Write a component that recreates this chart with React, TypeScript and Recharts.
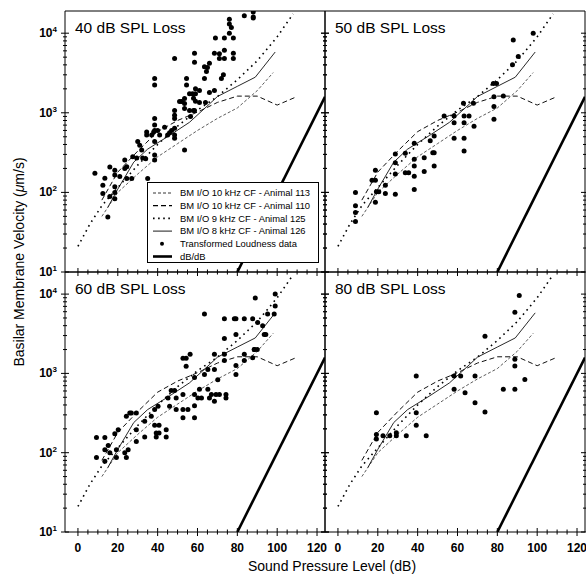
import { ComposedChart, Line, Scatter, XAxis, YAxis, ReferenceArea } from 'recharts';

const W = 586;
const H = 577;
const FONT = '"Liberation Sans", Arial, Helvetica, sans-serif';

const X_DOMAIN: [number, number] = [-6.5, 124];
const Y_DOMAIN: [number, number] = [10, 19000];

const xTicks = [0, 5, 10, 15, 20, 25, 30, 35, 40, 45, 50, 55, 60, 65, 70, 75, 80, 85, 90, 95, 100, 105, 110, 115, 120];
const yTicks = [
  10, 20, 30, 40, 50, 60, 70, 80, 90,
  100, 200, 300, 400, 500, 600, 700, 800, 900,
  1000, 2000, 3000, 4000, 5000, 6000, 7000, 8000, 9000,
  10000,
];

// BM I/O functions, [dB SPL, µm/s] — same in every panel
const animal113 = [[12, 50], [20, 100], [30, 170], [40, 280], [50, 410], [60, 600], [70, 850], [80, 1150], [90, 1900], [98, 3200]];
const animal110 = [[12, 80], [20, 180], [30, 330], [40, 580], [50, 800], [60, 1020], [70, 1350], [80, 1620], [90, 1620], [100, 1250], [110, 1600]];
const animal125 = [[0, 21], [6, 40], [12, 68], [20, 115], [30, 220], [40, 400], [50, 680], [60, 1080], [70, 1600], [80, 2600], [90, 4500], [100, 9000], [108, 17500]];
const animal126 = [[15, 65], [20, 110], [28, 240], [35, 350], [46, 520], [56, 760], [66, 1290], [70, 1600], [80, 2150], [89, 2800], [99, 5800]];
const dbPerDb = [[80, 10], [124, 1585]];

// transformed loudness data
const loudness40 = [
  [8.5, 174], [12.5, 123], [12.5, 97], [13.5, 151], [15, 49], [16, 209], [16, 89], [18.5, 190], [18.5, 165],
  [18.5, 118], [18.5, 100], [18.5, 83], [21, 158], [23.5, 200], [24.5, 210], [23.5, 255], [24.5, 150], [27, 150],
  [27.5, 280], [29.5, 270], [30, 435], [31, 390], [32, 340], [32.5, 270], [34, 265], [34.5, 575], [34.5, 525],
  [35, 150], [37, 525], [38, 575], [38.5, 435], [38.5, 295], [38.5, 255], [38.5, 850], [38.5, 700], [38.5, 600],
  [38.5, 2700], [38.5, 2230], [40, 600], [41, 525], [43.5, 660], [45, 525], [46, 560], [47, 600], [48.5, 640],
  [48.5, 525], [48.5, 480], [48.5, 850], [48.5, 1070], [48.5, 930], [48.5, 4800], [51, 1390], [52, 1390],
  [53.5, 1510], [53.5, 1310], [53.5, 1130], [53.5, 340], [54.5, 2700], [54.5, 2230], [56, 1740], [57.5, 1740],
  [59, 1740], [56, 1070], [58, 1070], [58.5, 1070], [56.5, 900], [58, 1520], [59, 1400], [59, 2000], [61, 1900],
  [61, 1350], [63.5, 2700], [63.5, 3800], [64.5, 3300], [65, 3700], [66, 4200], [64, 1350], [66, 1800],
  [68.5, 1900], [68.5, 5600], [69, 8700], [71, 4800], [71, 5500], [72, 2700], [73, 3000], [73.5, 8700],
  [73.5, 6100], [73.5, 4800], [76, 15000], [76, 10000], [77, 11800], [76, 13000], [78, 4800], [78, 5600],
  [78, 8700], [83.5, 16600], [88, 18500], [88, 15500], [88, 16000], [58.5, 5600], [58.5, 4300],
];
const loudness50 = [
  [8.8, 100], [8.8, 68], [8.8, 56], [8.8, 43], [18.8, 190], [17.1, 142], [18.8, 142], [19.3, 102], [18.8, 75],
  [20.5, 102], [23.8, 123], [23.8, 97], [28.8, 303], [28.8, 235], [28.8, 170], [28.8, 95], [33.8, 310],
  [33.8, 176], [35.5, 176], [38.3, 415], [38.3, 260], [38.3, 215], [38.3, 160], [38.3, 109], [43.3, 273],
  [43.3, 183], [46.3, 445], [48.3, 510], [47.6, 315], [48.3, 315], [48.3, 215], [53.3, 910], [58.3, 910],
  [58.3, 750], [58.3, 480], [63, 1320], [63.3, 910], [63.3, 750], [63.3, 480], [63.3, 330], [65.8, 910],
  [68, 1320], [68.3, 680], [78, 2340], [79.6, 2340], [78.3, 1590], [78.3, 1200], [78.3, 830], [83, 1620],
  [87.6, 4000], [88, 8200], [90.5, 5100], [98, 10000],
];
const loudness60 = [
  [9.3, 155], [9.3, 87], [13.5, 155], [13.5, 109], [13.5, 78], [15.2, 123], [16, 100], [18.5, 174], [20.2, 195],
  [19.3, 109], [19.3, 87], [23.5, 100], [24.3, 87], [25.2, 109], [24.3, 288], [26, 316], [26.8, 316], [29.3, 316],
  [29.3, 195], [29.3, 138], [33.5, 250], [33.5, 158], [36.8, 288], [38.5, 350], [38.5, 222], [40.2, 385],
  [40.7, 222], [39.3, 177], [39.3, 158], [40.7, 177], [44.3, 195], [44.3, 158], [46, 385], [45.2, 490],
  [46.8, 610], [48.5, 610], [49.3, 490], [49.3, 350], [52.7, 540], [52.7, 350], [52.7, 275], [55.2, 350],
  [52.7, 1550], [54.3, 1550], [54.3, 1230], [56.3, 1740], [58.5, 890], [58.5, 540], [58.5, 390], [58.5, 275],
  [60.2, 490], [61, 630], [62, 490], [63.5, 5600], [63.5, 970], [65.2, 1120], [65.2, 630], [66, 490], [67, 540],
  [68.5, 1740], [68.5, 1120], [68.5, 445], [69.3, 540], [70.2, 830], [71, 540], [73.5, 4900], [73.5, 2760],
  [73.5, 1740], [73.5, 1450], [74.3, 540], [74.3, 490], [78.5, 4900], [79.3, 4900], [79.3, 3100], [79.3, 1260],
  [79.3, 970], [83.5, 4900], [83.5, 1450], [83.5, 1740], [87.7, 4900], [89, 8900], [88.5, 2000], [87.7, 1580],
  [90.2, 4400], [92.7, 4000], [93.5, 3100], [94.3, 3100], [95.2, 5600], [98.5, 5600], [99, 7100], [99, 10000],
  [88.5, 2000], [90, 2000],
];
const loudness80 = [
  [19.3, 318], [19.3, 170], [19.3, 149], [22.6, 164], [26, 164], [29.3, 178], [29.3, 164], [34.3, 164],
  [39.3, 930], [39.3, 318], [39.3, 222], [44.3, 164], [58.3, 930], [58.3, 630], [61.6, 930], [63.8, 570],
  [68.8, 930], [68.8, 425], [73.8, 2950], [73.8, 325], [83, 630], [88.8, 5900], [88.8, 1510], [88.8, 1240],
  [88.8, 630], [91, 9600], [93.8, 840],
];

const toRows = (pairs: number[][]) => pairs.map(([x, v]) => ({ x, v }));

const panels = [
  { title: '40 dB SPL Loss', pts: loudness40, x0: 65, x1: 325, y0: 11, y1: 272, xLabels: false, yLabels: true },
  { title: '50 dB SPL Loss', pts: loudness50, x0: 325, x1: 585, y0: 11, y1: 272, xLabels: false, yLabels: false },
  { title: '60 dB SPL Loss', pts: loudness60, x0: 65, x1: 325, y0: 272, y1: 532, xLabels: true, yLabels: true },
  { title: '80 dB SPL Loss', pts: loudness80, x0: 325, x1: 585, y0: 272, y1: 532, xLabels: true, yLabels: false },
];

const LW = 40;
const RW = 1;
const XH = 30;

function XTick(props: any) {
  const { x, y, payload, showLabel } = props;
  const major = payload.value % 20 === 0;
  const len = major ? 4 : 2.5;
  return (
    <g>
      <line x1={x} x2={x} y1={y - len} y2={y + len} stroke="#000" strokeWidth={1} />
      {showLabel && major && (
        <text x={x} y={y + 20} textAnchor="middle" fontFamily={FONT} fontSize={12} fontWeight="bold" fill="#000">
          {payload.value}
        </text>
      )}
    </g>
  );
}

function YTick(props: any) {
  const { x, y, payload, showLabel } = props;
  const lg = Math.log10(payload.value);
  const e = Math.round(lg);
  const major = Math.abs(lg - e) < 1e-6;
  const len = major ? 4 : 2;
  return (
    <g>
      <line x1={x - len} x2={x + len} y1={y} y2={y} stroke="#000" strokeWidth={1} />
      {showLabel && major && (
        <text x={x - 8} y={y + 4} textAnchor="end" fontFamily={FONT} fontSize={12} fontWeight="bold" fill="#000">
          10
          <tspan dy={-5} fontSize={8}>{e}</tspan>
        </text>
      )}
    </g>
  );
}

function Panel({ p }: { p: (typeof panels)[number] }) {
  const margin = { left: p.x0 - LW, right: W - p.x1 - RW, top: p.y0, bottom: H - p.y1 - XH };
  return (
    <div style={{ position: 'absolute', left: 0, top: 0 }}>
      <ComposedChart width={W} height={H} margin={margin}>
        <XAxis
          type="number"
          dataKey="x"
          domain={X_DOMAIN}
          allowDataOverflow
          ticks={xTicks}
          interval={0}
          height={XH}
          axisLine={false}
          tickLine={false}
          tickSize={0}
          tickMargin={0}
          tick={(t: any) => <XTick {...t} showLabel={p.xLabels} />}
        />
        <YAxis
          yAxisId="left"
          type="number"
          dataKey="v"
          scale="log"
          domain={Y_DOMAIN}
          allowDataOverflow
          ticks={yTicks}
          interval={0}
          width={LW}
          axisLine={false}
          tickLine={false}
          tickSize={0}
          tickMargin={0}
          tick={(t: any) => <YTick {...t} showLabel={p.yLabels} />}
        />
        <YAxis
          yAxisId="right"
          orientation="right"
          type="number"
          scale="log"
          domain={Y_DOMAIN}
          allowDataOverflow
          ticks={yTicks}
          interval={0}
          width={RW}
          axisLine={false}
          tickLine={false}
          tickSize={0}
          tickMargin={0}
          tick={(t: any) => <YTick {...t} showLabel={false} />}
        />
        <ReferenceArea
          yAxisId="left"
          x1={X_DOMAIN[0]}
          x2={X_DOMAIN[1]}
          y1={Y_DOMAIN[0]}
          y2={Y_DOMAIN[1]}
          fill="none"
          stroke="#000"
          strokeWidth={1}
          ifOverflow="visible"
        />
        <Line yAxisId="left" data={toRows(animal113)} dataKey="v" type="linear" stroke="#333" strokeWidth={0.8} strokeDasharray="3 2" dot={false} isAnimationActive={false} />
        <Line yAxisId="left" data={toRows(animal110)} dataKey="v" type="linear" stroke="#111" strokeWidth={1} strokeDasharray="5 3" dot={false} isAnimationActive={false} />
        <Line yAxisId="left" data={toRows(animal125)} dataKey="v" type="linear" stroke="#000" strokeWidth={1.6} strokeDasharray="1.6 4" dot={false} isAnimationActive={false} />
        <Line yAxisId="left" data={toRows(animal126)} dataKey="v" type="linear" stroke="#111" strokeWidth={0.9} dot={false} isAnimationActive={false} />
        <Line yAxisId="left" data={toRows(dbPerDb)} dataKey="v" type="linear" stroke="#000" strokeWidth={2.6} dot={false} isAnimationActive={false} />
        <Scatter
          yAxisId="left"
          data={toRows(p.pts)}
          dataKey="v"
          fill="#000"
          isAnimationActive={false}
          shape={(s: any) => <circle cx={s.cx} cy={s.cy} r={2.5} fill="#000" />}
        />
      </ComposedChart>
    </div>
  );
}

const legendRows = [
  { label: 'BM I/O 10 kHz CF - Animal 113', dash: '3 2', width: 0.8 },
  { label: 'BM I/O 10 kHz CF - Animal 110', dash: '5 3', width: 1.2 },
  { label: 'BM I/O 9 kHz CF - Animal 125', dash: '1.6 3.5', width: 1.6 },
  { label: 'BM I/O 8 kHz CF - Animal 126', dash: undefined, width: 0.9 },
  { label: 'Transformed Loudness data', dash: 'dot', width: 0 },
  { label: 'dB/dB', dash: undefined, width: 2.6 },
];

export default function App() {
  return (
    <div style={{ position: 'absolute', left: 0, top: 0, width: W, height: H, background: '#fff' }}>
      {panels.map((p) => (
        <Panel key={p.title} p={p} />
      ))}
      <svg width={W} height={H} style={{ position: 'absolute', left: 0, top: 0 }}>
        {panels.map((p) => (
          <text key={p.title} x={p.x0 + 10} y={p.y0 + 22} fontFamily={FONT} fontSize={15.5} fill="#000">
            {p.title}
          </text>
        ))}
        <text x={332} y={571} textAnchor="middle" fontFamily={FONT} fontSize={14} fill="#000">
          Sound Pressure Level (dB)
        </text>
        <text
          x={24}
          y={262}
          transform="rotate(-90 24 262)"
          textAnchor="middle"
          fontFamily={FONT}
          fontSize={14}
          fill="#000"
        >
          Basilar Membrane Velocity (<tspan fontStyle="italic">μ</tspan>m/s)
        </text>
        <g>
          <rect x={147.5} y={182.5} width={171} height={80} fill="#fff" stroke="#000" strokeWidth={1} />
          {legendRows.map((r, i) => {
            const cy = 193 + i * 12.7;
            return (
              <g key={r.label}>
                {r.dash === 'dot' ? (
                  <circle cx={162} cy={cy} r={2} fill="#000" />
                ) : (
                  <line x1={153} x2={172} y1={cy} y2={cy} stroke="#000" strokeWidth={r.width} strokeDasharray={r.dash} />
                )}
                <text x={180} y={cy + 3.3} fontFamily={FONT} fontSize={9.4} fill="#000">
                  {r.label}
                </text>
              </g>
            );
          })}
        </g>
      </svg>
    </div>
  );
}
